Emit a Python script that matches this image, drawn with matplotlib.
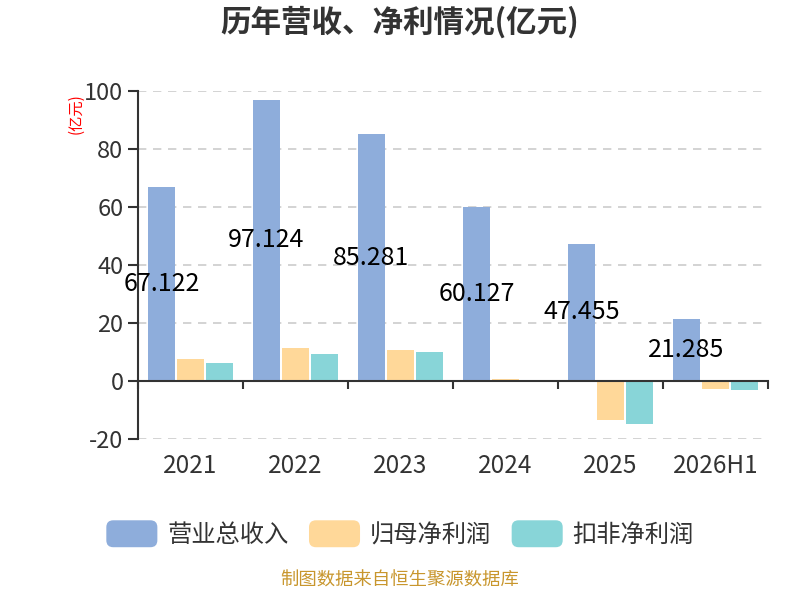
import matplotlib
matplotlib.use("Agg")
import matplotlib.pyplot as plt
import numpy as np
from matplotlib.patches import FancyBboxPatch, Patch
from matplotlib.legend_handler import HandlerPatch

plt.rcParams['font.family'] = ['Noto Sans CJK SC', 'DejaVu Sans']

# ---------------------------------------------------------------------------
# Dados
# ---------------------------------------------------------------------------
years = ["2021", "2022", "2023", "2024", "2025", "2026H1"]
revenue = [67.122, 97.124, 85.281, 60.127, 47.455, 21.285]
net_profit = [7.8, 11.4, 10.7, 0.7, -13.5, -2.6]
net_profit_deducted = [6.3, 9.4, 10.1, -0.3, -14.6, -2.9]

series_names = ["营业总收入", "归母净利润", "扣非净利润"]
colors = ["#8EADDB", "#FFD899", "#88D5D8"]
yticks = [-20, 0, 20, 40, 60, 80, 100]


class RoundedHandler(HandlerPatch):
    def create_artists(self, legend, orig_handle, xdescent, ydescent,
                       width, height, fontsize, trans):
        p = FancyBboxPatch((-xdescent, -ydescent - 3), width, height + 6,
                           boxstyle="round,pad=0,rounding_size=5",
                           facecolor=orig_handle.get_facecolor(),
                           edgecolor="none", transform=trans)
        return [p]


fig = plt.figure(figsize=(8, 6), dpi=100)
ax = fig.add_axes([0.1725, 0.268, 0.7875, 0.58])

x = np.arange(len(years))
w = 0.25
off = 0.277
ax.bar(x - off, revenue, w, color=colors[0], zorder=3)
ax.bar(x, net_profit, w, color=colors[1], zorder=3)
ax.bar(x + off, net_profit_deducted, w, color=colors[2], zorder=3)

for xi, v in zip(x, revenue):
    ax.text(xi - off, v / 2, f"{v:.3f}", ha="center", va="center",
            fontsize=18, color="black", zorder=5)

ax.set_xlim(-0.5, len(years) - 0.5)
ax.set_ylim(-20, 100)
ax.set_yticks(yticks)
ax.set_yticklabels([str(t) for t in yticks], fontsize=17, color="#333333")
ax.tick_params(axis="y", direction="out", length=7.5, width=1.5,
               color="#333333", pad=3)

for t in yticks:
    if t != 0:
        ax.axhline(t, color="#CCCCCC", lw=1.2, ls=(0, (5, 4)), zorder=1)

for s in ["top", "right"]:
    ax.spines[s].set_visible(False)
ax.spines["left"].set_color("#333333")
ax.spines["left"].set_linewidth(1.5)
ax.spines["bottom"].set_position(("data", 0))
ax.spines["bottom"].set_color("#333333")
ax.spines["bottom"].set_linewidth(1.5)
ax.spines["bottom"].set_zorder(4)

ax.set_xticks(np.arange(len(years) + 1) - 0.5)
ax.set_xticklabels([])
ax.tick_params(axis="x", direction="out", length=6, width=1.5, color="#333333")

for xi, lab in zip(x, years):
    ax.text(xi, -0.04, lab, transform=ax.get_xaxis_transform(),
            ha="center", va="top", fontsize=17.5, color="#333333")

fig.text(0.095, 0.81, "(亿元)", rotation=90, color="red", fontsize=11,
         ha="center", va="center")

fig.text(0.5, 0.962, "历年营收、净利情况(亿元)", ha="center", va="center",
         fontsize=22, fontweight="bold", color="#333333")

handles = [Patch(facecolor=c) for c in colors]
fig.legend(handles, series_names, loc="center", bbox_to_anchor=(0.5, 0.108),
           ncol=3, frameon=False, fontsize=17.5, handlelength=2.1,
           handleheight=0.8, handletextpad=0.4, columnspacing=0.85,
           labelcolor="#333333",
           handler_map={Patch: RoundedHandler()})

fig.text(0.5, 0.018, "制图数据来自恒生聚源数据库", ha="center", va="bottom",
         fontsize=13.2, color="#C8962D")

fig.savefig("out.png", dpi=100)
plt.close(fig)
